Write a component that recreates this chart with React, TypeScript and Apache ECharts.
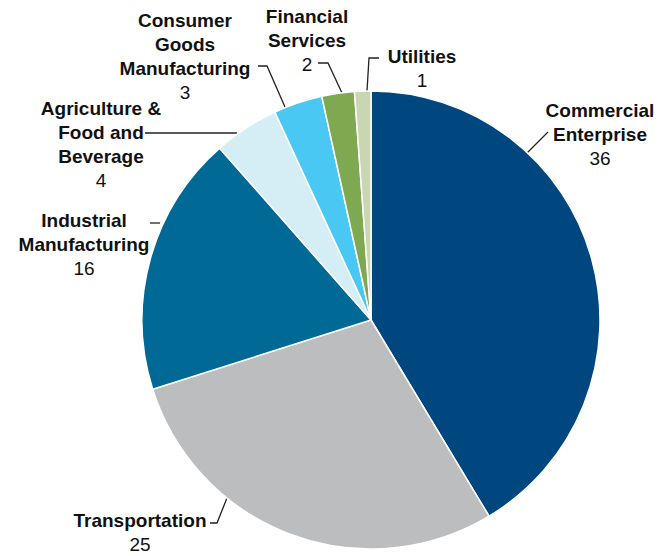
import React, { useEffect, useRef } from "react";
import * as echarts from "echarts";

const categories = [
  "Commercial Enterprise",
  "Transportation",
  "Industrial Manufacturing",
  "Agriculture & Food and Beverage",
  "Consumer Goods Manufacturing",
  "Financial Services",
  "Utilities",
];
const labelLines = [
  ["Commercial", "Enterprise"],
  ["Transportation"],
  ["Industrial", "Manufacturing"],
  ["Agriculture &", "Food and", "Beverage"],
  ["Consumer", "Goods", "Manufacturing"],
  ["Financial", "Services"],
  ["Utilities"],
];
const values = [36, 25, 16, 4, 3, 2, 1];
const colors = ["#00467f", "#bbbdbf", "#006996", "#d5edf4", "#48c8f3", "#7fa951", "#c8d6b2"];

// label block positions (center x, top y) and leader line points
const labelPos: [number, number][] = [
  [600, 98],
  [140, 508],
  [84, 208],
  [101, 96],
  [185, 8],
  [307, 4],
  [422, 44],
];
const leaderPts: number[][][] = [
  [[527, 153], [537, 143], [548, 132]],
  [[227, 498], [217, 523], [210, 523]],
  [[160, 223], [155, 223], [150, 223]],
  [[237, 133], [190, 133], [145, 133]],
  [[285, 107], [267, 66], [258, 66]],
  [[342, 93], [328, 63], [318, 63]],
  [[367, 91], [369, 58], [379, 58]],
];

const FONT = "'Liberation Sans', Arial, sans-serif";

export default function App() {
  const ref = useRef<HTMLDivElement>(null);
  useEffect(() => {
    document.body.style.margin = "0";
    const chart = echarts.init(ref.current!, null, { renderer: "svg" });
    chart.setOption({
      animation: false,
      backgroundColor: "#ffffff",
      series: [
        {
          type: "pie",
          center: [371, 320],
          radius: 229,
          startAngle: 90,
          clockwise: true,
          avoidLabelOverlap: false,
          itemStyle: { borderColor: "#ffffff", borderWidth: 1.5 },
          data: categories.map((c, i) => ({
            name: c,
            value: values[i],
            itemStyle: { color: colors[i] },
          })),
          label: {
            show: true,
            formatter: (p: any) => {
              const lines = labelLines[p.dataIndex].map((l) => `{n|${l}}`).join("\n");
              return `${lines}\n{v|${p.value}}`;
            },
            align: "center",
            rich: {
              n: { fontFamily: FONT, fontWeight: "bold", fontSize: 19, lineHeight: 24, color: "#111", align: "center" },
              v: { fontFamily: FONT, fontWeight: "normal", fontSize: 19, lineHeight: 24, color: "#111", align: "center" },
            },
          },
          labelLine: { show: true, lineStyle: { color: "#222", width: 1.3 } },
          labelLayout: (params: any) => {
            const i = params.dataIndex;
            return {
              x: labelPos[i][0],
              y: labelPos[i][1],
              align: "center",
              verticalAlign: "top",
              labelLinePoints: leaderPts[i],
            };
          },
        },
      ],
    });
    return () => chart.dispose();
  }, []);
  return <div ref={ref} style={{ width: 665, height: 556 }} />;
}
